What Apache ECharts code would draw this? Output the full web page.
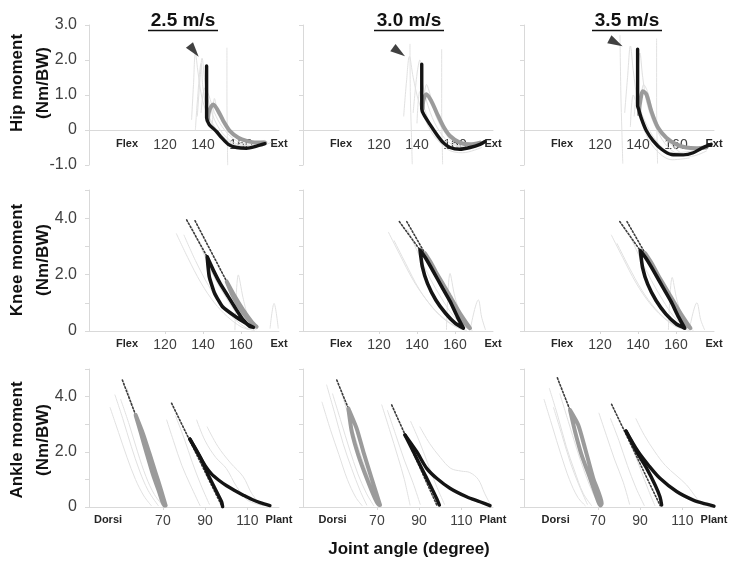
<!DOCTYPE html>
<html><head><meta charset="utf-8">
<script src="https://cdn.jsdelivr.net/npm/echarts@6/dist/echarts.min.js"></script>
<style>html,body{margin:0;padding:0;background:#fff}#c{width:744px;height:566px}</style>
</head><body><div id="c"></div>
<script>
// ---------- DATA ----------
const speeds = ['2.5 m/s', '3.0 m/s', '3.5 m/s'];
const rowNames = ['Hip moment', 'Knee moment', 'Ankle moment'];
const unitName = '(Nm/BW)';
const xTitle = 'Joint angle (degree)';
const hipKneeTicks = [100, 120, 140, 160, 180];      // 100 = Flex, 180 = Ext
const ankleTicks = [[44, 70, 90, 110, 125], [49, 70, 90, 110, 125], [50, 70, 90, 110, 125]]; // first = Dorsi, last = Plant
const hipYRange = [-1, 3];
const kneeYRange = [0, 5];
const ankleYRange = [0, 5];
const hipKneeXRange = [80, 180];
const ankleXRange = [35, 125];

// arrow markers (hip) [angle, moment]
const hipArrow = [[135.3, 2.26], [130.5, 2.23], [128.4, 2.49]];

// Hip: thick black, thick gray, light individual traces (per speed)
const hipBlack = [
  [[141.9,1.83],[141.9,0.35],[143.2,0.16],[145.5,0.04],[147.2,-0.05],[149.8,-0.22],[153.3,-0.41],[157.7,-0.5],[162.9,-0.52],[168.2,-0.46],[172.6,-0.39]],
  [[142.5,1.88],[142.5,0.6],[143.5,0.45],[146.8,0.16],[150.3,-0.12],[153.8,-0.36],[157.4,-0.5],[162.6,-0.55],[167.9,-0.5],[173.2,-0.41],[175.8,-0.33]],
  [[139.8,2.31],[139.8,0.69],[140.3,0.6],[141.9,0.31],[144.5,-0.03],[148,-0.31],[152.4,-0.55],[157.6,-0.7],[163.8,-0.71],[169.1,-0.65],[173.5,-0.52],[178.5,-0.41]]
];
const hipGray = [
  [[142.6,0.3],[143.3,0.55],[145.4,0.73],[148,0.54],[150.7,0.26],[154.2,-0.03],[158.6,-0.22],[163,-0.31],[168.2,-0.36],[172.6,-0.36]],
  [[143,0.6],[143.3,0.83],[144.9,1.02],[147.5,0.83],[150.3,0.5],[153.8,0.11],[157.4,-0.17],[162.6,-0.36],[167.9,-0.41],[173.2,-0.36]],
  [[140.5,0.45],[141,0.75],[142.6,1.11],[144.4,1.02],[147,0.54],[150.5,0.07],[154.9,-0.22],[160.2,-0.41],[165.4,-0.5],[170.7,-0.52],[176,-0.5]]
];
const hipLight = [
  [
    [[134,0.3],[135,1.3],[136,2.2],[137.5,1.6],[140,0.8],[145,0.15],[152,-0.3],[160,-0.45],[170,-0.4]],
    [[137,0.4],[138.5,1.5],[139.5,2.05],[141,1.4],[144,0.6],[149,0.0],[156,-0.35],[165,-0.45],[174,-0.35]],
    [[152.6,2.34],[152.6,1.0],[152.8,-0.2],[153,-1.0]],
    [[139,0.5],[141,1.2],[143,1.0],[146,0.5],[150,0.1],[156,-0.25],[163,-0.4],[172,-0.3]],
    [[136,0.0],[137,0.8],[139,1.9],[140,1.2],[143,0.4],[150,-0.15],[158,-0.45],[167,-0.5],[176,-0.35]],
    [[145,0.2],[146,0.9],[148,0.5],[153,0.05],[160,-0.3],[170,-0.35]]
  ],
  [
    [[136.3,2.45],[136.5,1.0],[137,0.0],[137.5,-0.97]],
    [[153,2.3],[153,0.5],[153.3,-0.5],[153.5,-0.97]],
    [[133,0.4],[134.5,1.4],[136,2.1],[138,1.5],[141,0.8],[146,0.1],[152,-0.35],[160,-0.5],[170,-0.4]],
    [[138,0.5],[140,1.6],[141.5,2.0],[143,1.3],[147,0.5],[152,-0.05],[158,-0.4],[166,-0.5],[175,-0.35]],
    [[143,0.5],[145,1.3],[147,1.0],[150,0.4],[155,-0.1],[162,-0.45],[172,-0.45]],
    [[140,0.2],[141.5,1.1],[144,0.6],[149,-0.1],[156,-0.55],[164,-0.65],[174,-0.5]]
  ],
  [
    [[130.5,2.7],[131,1.0],[131.5,0.0],[132,-0.95]],
    [[149.8,2.6],[149.8,0.8],[150,-0.2],[150.3,-0.95]],
    [[133,0.5],[134.5,1.5],[136,2.4],[137.5,1.7],[140,0.8],[145,0.1],[151,-0.4],[158,-0.65],[168,-0.6],[177,-0.45]],
    [[138,0.4],[139.5,1.3],[141,2.2],[142.5,1.5],[145,0.7],[150,0.0],[156,-0.5],[163,-0.7],[172,-0.6]],
    [[141,0.5],[143,1.3],[145,1.1],[148,0.5],[153,-0.1],[160,-0.55],[168,-0.75],[176,-0.6]],
    [[136,0.1],[137.5,1.0],[139.5,0.7],[144,-0.1],[150,-0.6],[158,-0.85],[167,-0.8]]
  ]
];

// Knee (loops: down along the left branch, back up along the right branch)
const kneeBlack = [
  [[142.2,2.63],[143.3,1.93],[146.1,1.34],[150.3,0.86],[156.3,0.55],[163,0.26],[166.5,0.13],[164.7,0.16],[161.2,0.39],[157.7,0.74],[153.3,1.22],[149,1.69],[145.4,2.16],[142.2,2.63]],
  [[141.6,2.87],[142.8,2.28],[145.5,1.69],[149.9,1.1],[155,0.63],[160.2,0.27],[164.4,0.1],[161.2,0.51],[157.5,1.04],[153,1.57],[148.7,2.1],[144.6,2.58],[141.6,2.87]],
  [[141.2,2.85],[142.4,2.25],[145.1,1.66],[149.5,1.08],[154.7,0.6],[160.2,0.25],[164.6,0.1],[161.3,0.5],[157.5,1.03],[152.9,1.57],[148.5,2.1],[144.3,2.57],[141.2,2.85]]
];
const kneeGray = [
  [[152.5,1.75],[156.8,1.22],[161.2,0.74],[165.6,0.33],[168.2,0.15],[166,0.25],[161,0.65],[156,1.2],[152.5,1.75]],
  [[144.2,2.75],[150.4,2.04],[156.5,1.34],[162.6,0.63],[167.9,0.1],[165,0.3],[159,1.0],[153,1.7],[147.5,2.4],[144.2,2.75]],
  [[143.8,2.75],[150,2.04],[156.2,1.34],[162.4,0.63],[167.6,0.1],[164.8,0.3],[158.8,1.0],[152.8,1.7],[147.2,2.4],[143.8,2.75]]
];
const kneeFit = [
  [[[131.4,3.94],[142.2,2.63]], [[135.8,3.91],[152.5,1.75]]],
  [[[130.7,3.88],[141.6,2.87]], [[134.6,3.88],[144.2,2.75]]],
  [[[130.4,3.88],[141.2,2.85]], [[134.2,3.88],[143.8,2.75]]]
];
const kneeLight = [
  [
    [[126,3.45],[132,2.6],[139,1.7],[146,1.0],[153,0.5],[160,0.15],[164,0.05]],
    [[130,3.4],[136,2.5],[143,1.6],[150,0.9],[157,0.4],[163,0.1],[167,0.02]],
    [[134,3.7],[140,2.8],[146,1.9],[152,1.2],[158,0.6],[164,0.2],[168,0.05]],
    [[156.8,0.04],[158.6,1.99],[161,1.2],[164.7,0.15]],
    [[175.3,0.1],[177.4,0.98],[179.6,0.1]]
  ],
  [
    [[125,3.5],[131,2.7],[138,1.8],[145,1.1],[152,0.55],[159,0.2],[164,0.05]],
    [[128,3.2],[134,2.4],[141,1.5],[148,0.85],[155,0.4],[162,0.1],[166,0.02]],
    [[135,3.6],[141,2.7],[147,1.85],[153,1.15],[159,0.55],[165,0.15],[169,0.03]],
    [[155.5,0.05],[157.4,2.04],[160,1.2],[165,0.15]],
    [[168,0.05],[172.3,1.1],[174,0.5],[176,0.05]]
  ],
  [
    [[126,3.4],[132,2.6],[139,1.7],[146,1.0],[153,0.5],[160,0.15],[165,0.05]],
    [[129,3.1],[135,2.3],[142,1.45],[149,0.8],[156,0.35],[163,0.1],[167,0.02]],
    [[135,3.5],[141,2.6],[147,1.8],[153,1.1],[159,0.5],[165,0.15],[169,0.03]],
    [[156,0.05],[158,1.9],[160.5,1.1],[165,0.15]],
    [[167,0.05],[171,1.0],[173,0.4],[175,0.05]]
  ]
];

// Ankle
const ankleGray = [
  [[57.1,3.33],[59.5,2.7],[62.3,1.95],[65.2,1.2],[68.2,0.55],[70.6,0.05],[71.3,0.05],[69.2,0.6],[66.5,1.25],[63.6,1.95],[60.6,2.65],[57.1,3.33]],
  [[56.5,3.57],[58.1,2.73],[61.2,1.88],[65.2,1.04],[69.1,0.31],[71,0.07],[71.5,0.07],[67.5,1.04],[63.6,2.0],[60.4,2.85],[56.5,3.57]],
  [[56.8,3.51],[59.2,2.73],[62.3,1.88],[66.3,1.04],[70.2,0.19],[71.3,0.05],[71.8,0.13],[67.8,1.04],[63.9,2.13],[60.7,2.97],[56.8,3.51]]
];
const ankleGrayFit = [
  [[50.8,4.6],[57.1,3.33]],
  [[51,4.6],[56.5,3.57]],
  [[50.8,4.68],[56.8,3.51]]
];
const ankleBlackSteep = [
  [[82.8,2.46],[87.6,1.82],[91.5,1.16],[95.4,0.56],[97.8,0.19],[98.3,0.01]],
  [[83.3,2.61],[87.3,2.0],[91.2,1.4],[95.2,0.8],[98.3,0.31],[99.6,0.07]],
  [[83.3,2.75],[88.4,2.0],[93.1,1.4],[97.1,0.8],[99.4,0.37],[100.2,0.07]]
];
const ankleBlackCurve = [
  [[82.8,2.46],[86.5,1.95],[90,1.5],[93,1.2],[96.5,0.97],[100.2,0.77],[104,0.6],[108.1,0.43],[112,0.28],[116,0.16],[120.7,0.05]],
  [[83.3,2.61],[88.9,2.0],[93.6,1.4],[98.3,1.04],[104.6,0.68],[112.5,0.37],[118.8,0.19],[123.6,0.05]],
  [[83.3,2.75],[89.1,2.0],[93.9,1.52],[99.4,1.04],[107.3,0.56],[115.2,0.25],[121.5,0.1],[125,0.03]]
];
const ankleBlackFit = [
  [[74.1,3.76],[97.8,0.05]],
  [[77,3.7],[98.5,0.05]],
  [[76.5,3.72],[99.5,0.05]]
];
const ankleLight = [
  [
    [[47.3,4.06],[51,3.2],[55,2.2],[59,1.3],[63,0.6],[67.8,0.05]],
    [[50,3.9],[54,3.0],[58,2.0],[62,1.1],[66,0.45],[70,0.05]],
    [[45,3.6],[49,2.7],[53,1.8],[57,1.0],[61,0.4],[64.5,0.05]],
    [[53,4.3],[57,3.3],[61,2.2],[65,1.2],[69,0.4],[72,0.05]],
    [[71.8,3.15],[75,2.4],[79,1.5],[83,0.8],[87.6,0.05]],
    [[76,3.3],[80,2.5],[84,1.6],[88,0.8],[92,0.1]],
    [[86,3.15],[90,2.4],[95,1.8],[100,1.4],[104.9,0.74],[110,0.25],[117.5,0.05]],
    [[91,2.9],[96,2.2],[102,1.6],[108,1.1],[112,0.5],[116,0.1]]
  ],
  [
    [[46.2,4.42],[50,3.4],[54,2.3],[58,1.4],[62,0.6],[65.2,0.07]],
    [[49,4.1],[53,3.1],[57,2.1],[61,1.2],[65,0.5],[68.5,0.05]],
    [[53,4.2],[57,3.2],[61,2.2],[65,1.3],[69,0.5],[72,0.05]],
    [[44,3.8],[48,2.8],[52,1.9],[56,1.0],[60,0.35],[63,0.05]],
    [[72.3,3.7],[76,2.8],[80,1.8],[83,1.0],[85.7,0.07]],
    [[75,3.5],[79,2.6],[83,1.7],[87,0.9],[90.5,0.1]],
    [[90.4,2.9],[95,2.3],[100,1.8],[105,1.4],[110,1.3],[114,1.25],[118,1.0],[121,0.5],[124,0.05]],
    [[86,3.1],[90,2.4],[94,1.6],[98,0.8],[102,0.1]]
  ],
  [
    [[44.5,3.9],[48.5,2.9],[52.5,1.9],[56.5,1.0],[60.5,0.35],[64,0.05]],
    [[47,4.3],[51,3.3],[55,2.2],[59,1.3],[63,0.5],[67,0.05]],
    [[52,4.1],[56,3.1],[60,2.1],[64,1.2],[68,0.45],[71,0.05]],
    [[49,3.6],[53,2.6],[57,1.6],[61,0.8],[65,0.1]],
    [[70.5,3.4],[74,2.6],[78,1.7],[82,0.9],[85,0.1]],
    [[76,3.2],[80,2.4],[84,1.5],[88,0.7],[92,0.05]],
    [[88,3.2],[92,2.6],[97,2.0],[102,1.5],[107,1.15],[112,0.8],[117,0.3],[120,0.05]],
    [[82,2.9],[86,2.2],[90,1.4],[94,0.6],[97,0.05]]
  ]
];

// ---------- LAYOUT / STYLE ----------
const FONT = '"Liberation Sans", Arial, sans-serif';
const colLeft = [89, 303, 524];
const colW = 190;
const rowBox = [{top: 25, height: 140}, {top: 190, height: 141}, {top: 369, height: 138}];
const titleX = [183, 409, 627];
const arrowRotate = [-142, -126, -118];
const C_BLACK = '#141414', C_GRAY = '#9b9b9b', C_LIGHT = '#e1e1e1', C_AXIS = '#d9d9d9', C_FIT = '#3c3c3c';

const grids = [], xAxes = [], yAxes = [], series = [];

for (let r = 0; r < 3; r++) {
  for (let c = 0; c < 3; c++) {
    const gi = r * 3 + c;
    grids.push({left: colLeft[c], top: rowBox[r].top, width: colW, height: rowBox[r].height});
    const xr = r === 2 ? ankleXRange : hipKneeXRange;
    const ticks = r === 2 ? ankleTicks[c] : hipKneeTicks;
    const endNames = r === 2 ? ['Dorsi', 'Plant'] : ['Flex', 'Ext'];
    xAxes.push({
      type: 'value', gridIndex: gi, min: xr[0], max: xr[1],
      axisLine: {onZero: true, lineStyle: {color: C_AXIS, width: 1}},
      axisTick: {show: r !== 0, customValues: ticks.slice(1, 4), length: 3, lineStyle: {color: C_AXIS}},
      splitLine: {show: false},
      axisLabel: {
        customValues: ticks, margin: r === 0 ? -27 : 7,
        fontSize: 14, color: '#404040', fontFamily: FONT,
        formatter: v => v === ticks[0] ? '{b|' + endNames[0] + '}' :
                        (v === ticks[ticks.length - 1] ? '{b|' + endNames[1] + '}' : String(v)),
        rich: {b: {fontSize: 11, fontWeight: 'bold', color: '#262626', fontFamily: FONT}}
      }
    });
    const yr = r === 0 ? hipYRange : (r === 1 ? kneeYRange : ankleYRange);
    yAxes.push({
      type: 'value', gridIndex: gi, min: yr[0], max: yr[1], interval: 1,
      axisLine: {show: true, onZero: false, lineStyle: {color: C_AXIS, width: 1}},
      axisTick: {show: true, length: 4, lineStyle: {color: C_AXIS}},
      splitLine: {show: false},
      axisLabel: {
        show: c === 0, margin: 12, fontSize: 16, color: '#404040', fontFamily: FONT,
        formatter: v => {
          if (r === 0) return v === 0 ? '0' : v.toFixed(1);
          if (v === 0) return '0';
          return (v % 2 === 0 && v < yr[1]) ? v.toFixed(1) : '';
        }
      }
    });
  }
}

function addLine(gi, data, color, width, smooth, type, z) {
  series.push({
    type: 'line', xAxisIndex: gi, yAxisIndex: gi, data: data,
    showSymbol: false, symbol: 'none', smooth: smooth, silent: true, z: z,
    lineStyle: {color: color, width: width, type: type || 'solid', cap: 'round', join: 'round'}
  });
}

for (let c = 0; c < 3; c++) {
  // Hip
  let gi = c;
  hipLight[c].forEach(d => addLine(gi, d, C_LIGHT, 1, 0.35, 'solid', 2));
  addLine(gi, hipGray[c], C_GRAY, 4, 0.3, 'solid', 4);
  addLine(gi, hipBlack[c], C_BLACK, 3.4, 0.25, 'solid', 5);
  series.push({
    type: 'scatter', xAxisIndex: gi, yAxisIndex: gi, data: [hipArrow[c]],
    symbol: 'triangle', symbolSize: [9, 15], symbolRotate: arrowRotate[c],
    itemStyle: {color: '#111'}, silent: true, z: 6
  });
  // Knee
  gi = 3 + c;
  kneeLight[c].forEach(d => addLine(gi, d, C_LIGHT, 1, 0.35, 'solid', 2));
  kneeFit[c].forEach(d => addLine(gi, d, C_FIT, 1.6, false, [1.6, 2], 3));
  addLine(gi, kneeGray[c], C_GRAY, 4, 0.2, 'solid', 4);
  addLine(gi, kneeBlack[c], C_BLACK, 3.6, 0.15, 'solid', 5);
  // Ankle
  gi = 6 + c;
  ankleLight[c].forEach(d => addLine(gi, d, C_LIGHT, 1, 0.35, 'solid', 2));
  addLine(gi, ankleGrayFit[c], C_FIT, 1.6, false, [1.6, 2], 3);
  addLine(gi, ankleBlackFit[c], C_FIT, 1.6, false, [1.6, 2], 3);
  addLine(gi, ankleGray[c], C_GRAY, 4, 0.2, 'solid', 4);
  addLine(gi, ankleBlackSteep[c], C_BLACK, 3.4, 0.3, 'solid', 5);
  addLine(gi, ankleBlackCurve[c], C_BLACK, 3.4, 0.3, 'solid', 5);
}

const graphics = [];
for (let c = 0; c < 3; c++) {
  graphics.push({type: 'text', x: titleX[c], y: 21, silent: true,
    style: {text: speeds[c], font: 'bold 19px ' + FONT, fill: '#111', align: 'center', verticalAlign: 'middle'}});
  graphics.push({type: 'line', silent: true,
    shape: {x1: titleX[c] - 35, y1: 30.5, x2: titleX[c] + 35, y2: 30.5},
    style: {stroke: '#111', lineWidth: 1.5}});
}
const nameCenters = [83, 260, 440];
for (let r = 0; r < 3; r++) {
  graphics.push({type: 'text', x: 17, y: nameCenters[r], rotation: Math.PI / 2, silent: true,
    style: {text: rowNames[r], font: 'bold 17px ' + FONT, fill: '#111', align: 'center', verticalAlign: 'middle'}});
  graphics.push({type: 'text', x: 43, y: nameCenters[r], rotation: Math.PI / 2, silent: true,
    style: {text: unitName, font: 'bold 17px ' + FONT, fill: '#111', align: 'center', verticalAlign: 'middle'}});
}
graphics.push({type: 'text', x: 409, y: 549, silent: true,
  style: {text: xTitle, font: 'bold 17px ' + FONT, fill: '#111', align: 'center', verticalAlign: 'middle'}});

const chart = echarts.init(document.getElementById('c'), null, {renderer: 'canvas'});
chart.setOption({
  animation: false,
  backgroundColor: '#fff',
  grid: grids, xAxis: xAxes, yAxis: yAxes, series: series, graphic: graphics
});
</script></body></html>
